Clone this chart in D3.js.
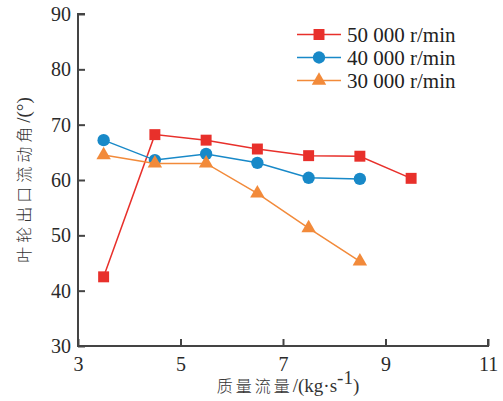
<!DOCTYPE html>
<meta charset="utf-8">
<html>
<head>
<script src="https://cdn.jsdelivr.net/npm/d3@7"></script>
<style>
body { margin: 0; background: white; }
.tick text { font-family: "Liberation Serif", "DejaVu Serif", serif; font-size: 20px; }
.legend text { font-family: "Liberation Serif", serif; font-size: 21px; fill: #222; }
.title { font-family: "Noto Sans CJK SC", sans-serif; font-size: 16px; font-weight: 300; fill: #333; }
.title .latin { font-family: "Liberation Serif", serif; font-size: 19px; font-weight: 400; }
</style>
</head>
<body>
<svg id="chart"></svg>
<script>
'use strict'

const flow = [3.5, 4.5, 5.5, 6.5, 7.5, 8.5, 9.5]
const angle50k = [42.5, 68.2, 67.2, 65.6, 64.4, 64.3, 60.3]
const angle40k = [67.2, 63.6, 64.7, 63.1, 60.4, 60.2]
const angle30k = [64.5, 63.0, 63.0, 57.6, 51.3, 45.3]
const seriesNames = ["50 000 r/min", "40 000 r/min", "30 000 r/min"]
const xTicks = [3, 5, 7, 9, 11]
const yTicks = [30, 40, 50, 60, 70, 80, 90]

const width = 503, height = 401
const margin = {left: 78, right: 15, top: 14, bottom: 55}

const svg = d3.select("#chart").attr("width", width).attr("height", height)

const x = d3.scaleLinear().domain([3, 11]).range([margin.left, width - margin.right])
const y = d3.scaleLinear().domain([30, 90]).range([height - margin.bottom, margin.top])

// axes: ticks point inward
svg.append("g")
	.attr("transform", "translate(0," + y(30) + ")")
	.call(d3.axisBottom(x).tickValues(xTicks).tickSize(-7).tickPadding(11).tickFormat(d3.format("d")))
	.call(g => g.select(".domain").attr("d", "M" + x(3) + ",-7V0H" + x(11) + "V-7"))
svg.append("g")
	.attr("transform", "translate(" + x(3) + ",0)")
	.call(d3.axisLeft(y).tickValues(yTicks).tickSize(-7).tickPadding(7))
	.call(g => g.select(".domain").attr("d", "M7," + y(90) + "H0V" + y(30)))
svg.selectAll(".domain, .tick line").attr("stroke", "#444").attr("stroke-width", 2)
svg.selectAll(".tick text").attr("fill", "#2a2a2a")

const series = [
	{name: seriesNames[0], values: angle50k, color: "#e8302b", symbol: d3.symbolSquare, size: 120},
	{name: seriesNames[1], values: angle40k, color: "#1889c8", symbol: d3.symbolCircle, size: 120},
	{name: seriesNames[2], values: angle30k, color: "#f28a3a", symbol: d3.symbolTriangle, size: 90}
]

const line = d3.line().x(d => x(d[0])).y(d => y(d[1]))

series.forEach(s => {
	const pts = s.values.map((v, i) => [flow[i], v])
	svg.append("path")
		.attr("d", line(pts))
		.attr("fill", "none")
		.attr("stroke", s.color)
		.attr("stroke-width", 1.5)
	svg.append("g").selectAll("path")
		.data(pts)
		.enter().append("path")
			.attr("transform", d => "translate(" + x(d[0]) + "," + y(d[1]) + ")")
			.attr("d", d3.symbol().type(s.symbol).size(s.size))
			.attr("fill", s.color)
})

// legend
const legend = svg.append("g").attr("class", "legend")
series.forEach((s, i) => {
	const ly = 34.5 + i * 23
	legend.append("line")
		.attr("x1", 297).attr("x2", 341)
		.attr("y1", ly).attr("y2", ly)
		.attr("stroke", s.color).attr("stroke-width", 1.5)
	legend.append("path")
		.attr("transform", "translate(319," + ly + ")")
		.attr("d", d3.symbol().type(s.symbol).size(s.size))
		.attr("fill", s.color)
	legend.append("text")
		.attr("x", 347).attr("y", ly + 7)
		.text(s.name)
})

// axis titles
const xt = svg.append("text")
	.attr("class", "title")
	.attr("x", 288).attr("y", 392)
	.attr("text-anchor", "middle")
xt.append("tspan").attr("letter-spacing", "3px").text("质量流量")
xt.append("tspan").attr("class", "latin").text("/(kg·s")
xt.append("tspan").attr("class", "latin").attr("font-size", "9px").attr("dy", -8).text("-1")
xt.append("tspan").attr("class", "latin").attr("dy", 8).text(")")

const yt = svg.append("text")
	.attr("class", "title")
	.attr("transform", "translate(30,180) rotate(-90)")
	.attr("text-anchor", "middle")
yt.append("tspan").attr("letter-spacing", "4px").text("叶轮出口流动角")
yt.append("tspan").attr("class", "latin").text("/(°)")
</script>
</body>
</html>
